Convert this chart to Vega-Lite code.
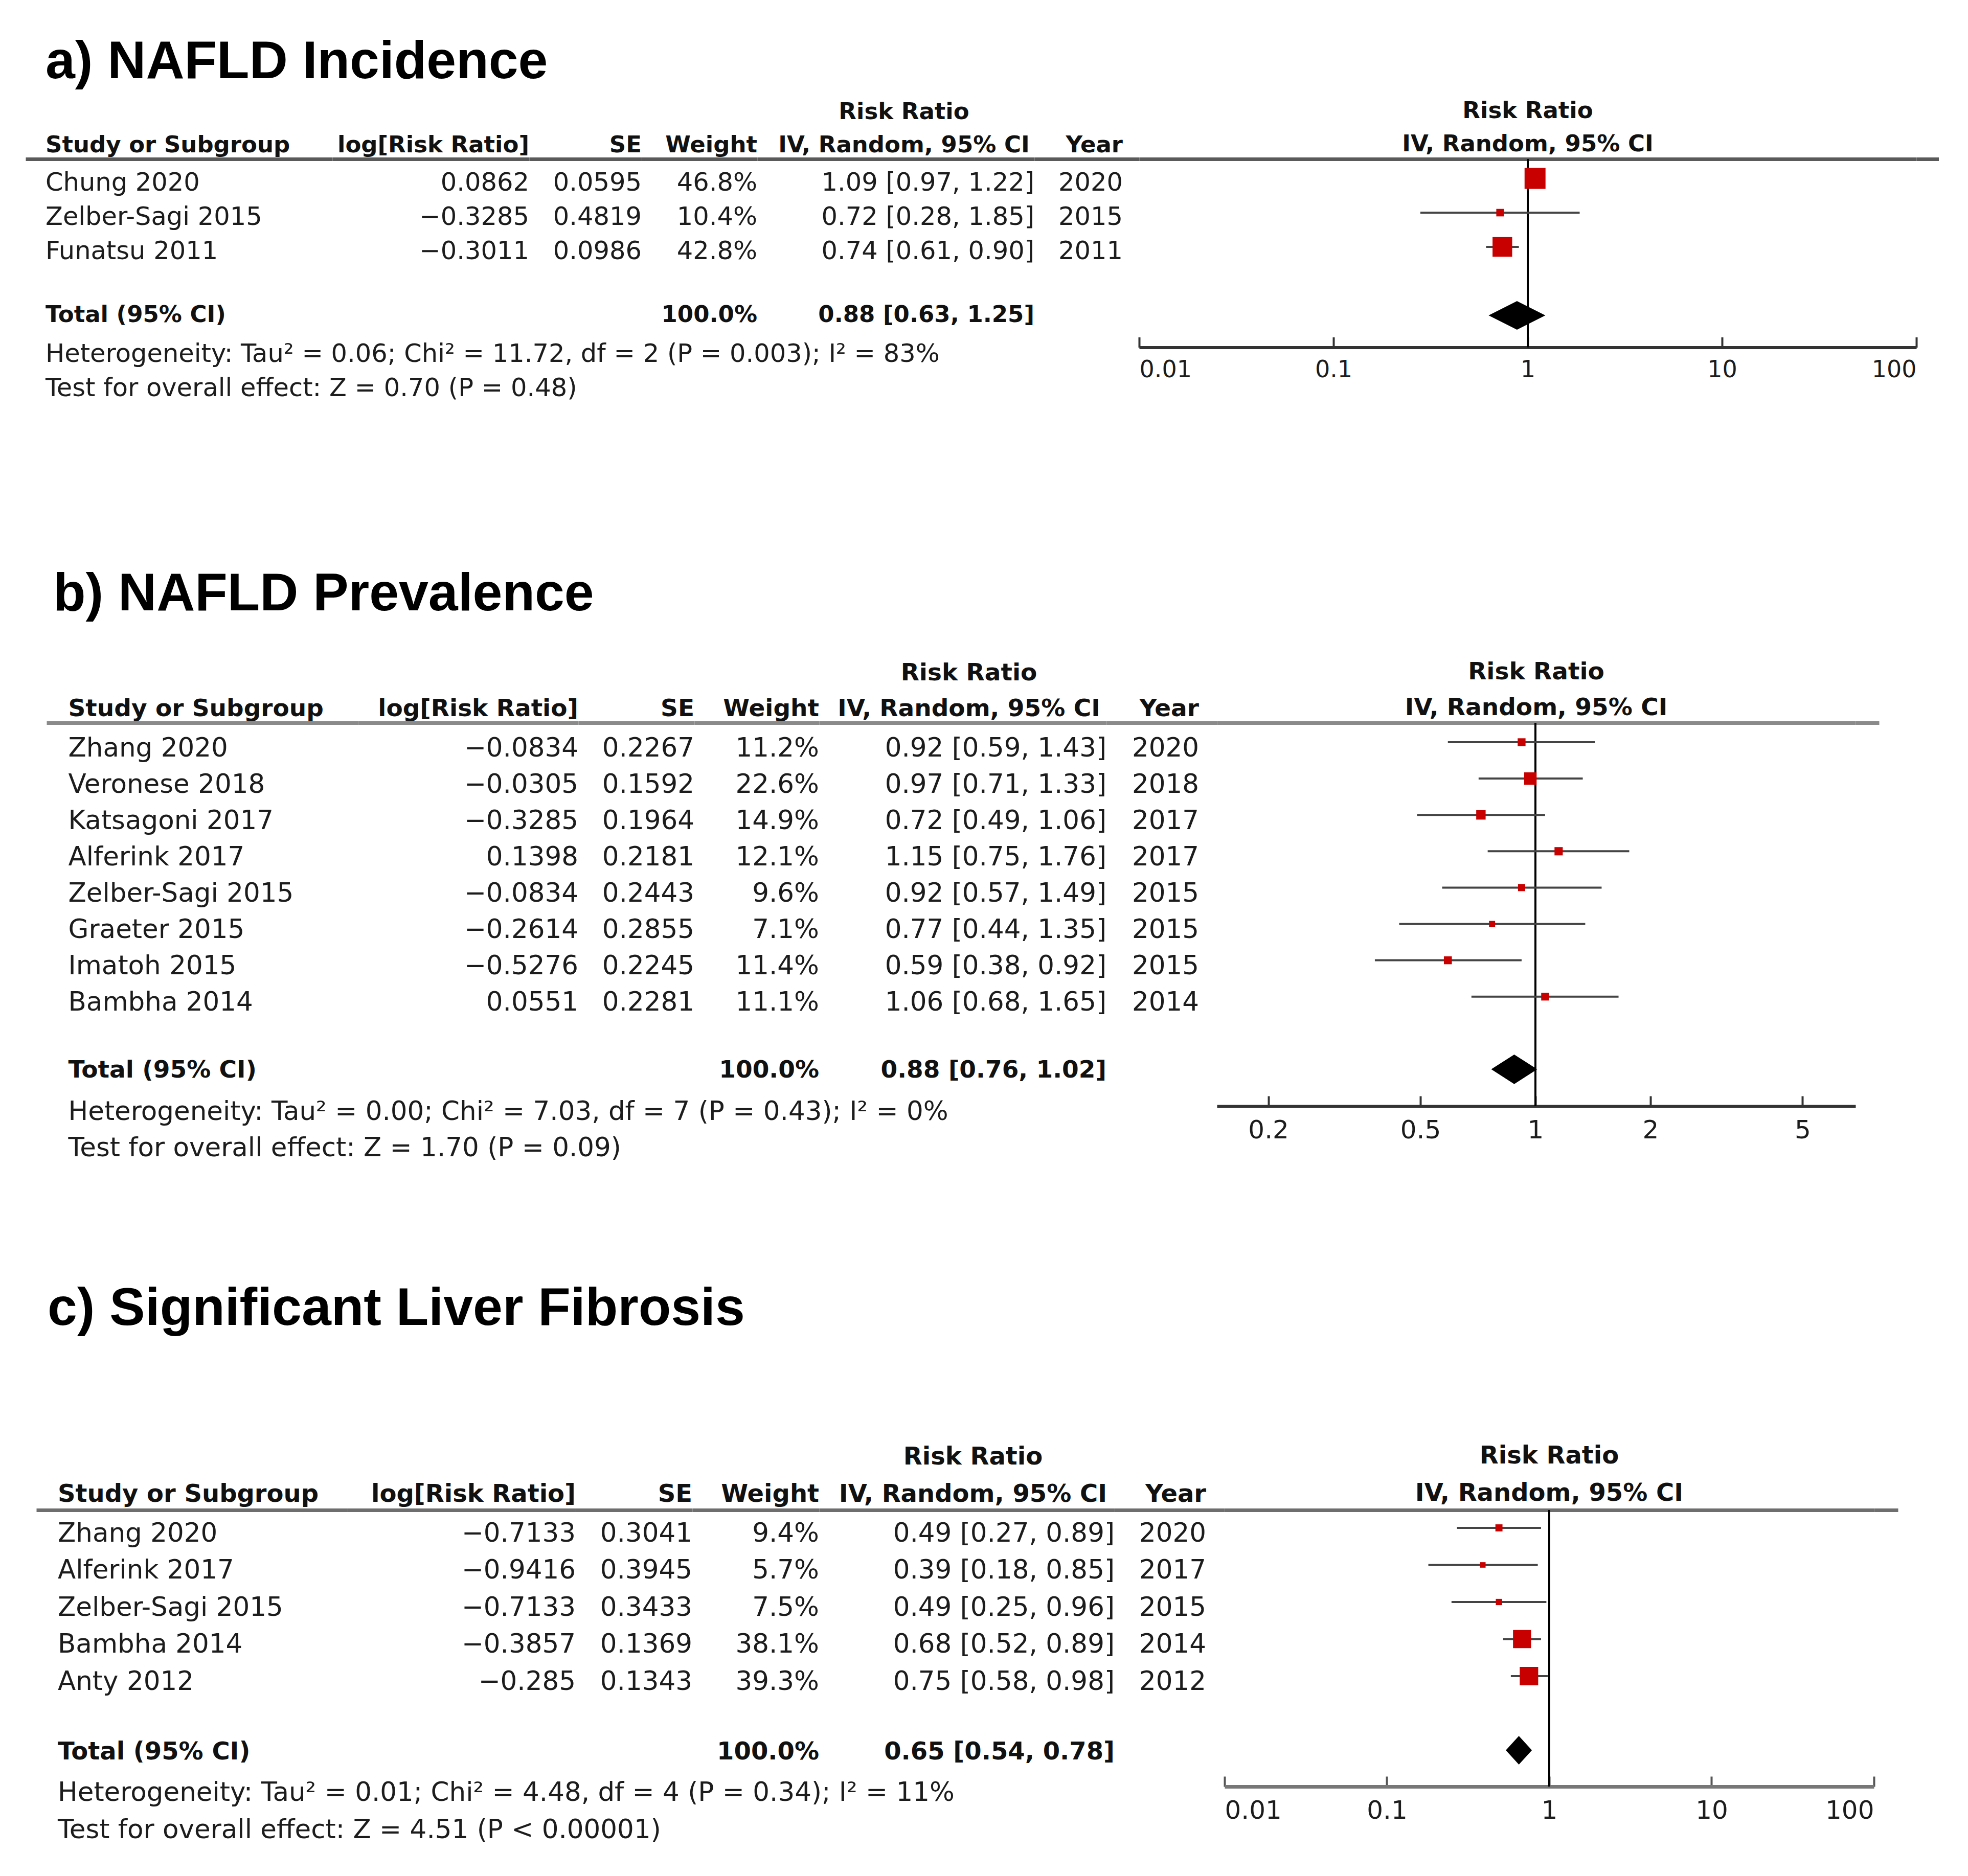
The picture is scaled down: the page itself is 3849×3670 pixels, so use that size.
{
  "$schema": "https://vega.github.io/schema/vega-lite/v6.json",
  "background": "white",
  "padding": {"left": 0, "top": 70, "right": 0, "bottom": 0},
  "spacing": 0,
  "config": {
    "view": {"stroke": null},
    "concat": {"spacing": 0},
    "font": "DejaVu Sans",
    "title": {"frame": "group", "font": "DejaVu Sans", "fontWeight": "bold", "color": "#111111", "baseline": "bottom"},
    "axis": {"grid": false, "minExtent": 0}
  },
  "datasets": {
    "a": [
      {"kind": "study", "study": "Chung 2020", "logrr": "0.0862", "se": "0.0595", "weight": "46.8%", "ci": "1.09 [0.97, 1.22]", "year": "2020", "rr": 1.09, "lo": 0.97, "hi": 1.22, "w": 46.8},
      {"kind": "study", "study": "Zelber-Sagi 2015", "logrr": "−0.3285", "se": "0.4819", "weight": "10.4%", "ci": "0.72 [0.28, 1.85]", "year": "2015", "rr": 0.72, "lo": 0.28, "hi": 1.85, "w": 10.4},
      {"kind": "study", "study": "Funatsu 2011", "logrr": "−0.3011", "se": "0.0986", "weight": "42.8%", "ci": "0.74 [0.61, 0.90]", "year": "2011", "rr": 0.74, "lo": 0.61, "hi": 0.90, "w": 42.8},
      {"kind": "total", "study": "Total (95% CI)", "weight": "100.0%", "ci": "0.88 [0.63, 1.25]", "rr": 0.88, "lo": 0.63, "hi": 1.25},
      {"kind": "note", "study": "Heterogeneity: Tau² = 0.06; Chi² = 11.72, df = 2 (P = 0.003); I² = 83%"},
      {"kind": "note", "study": "Test for overall effect: Z = 0.70 (P = 0.48)"}
    ],
    "b": [
      {"kind": "study", "study": "Zhang 2020", "logrr": "−0.0834", "se": "0.2267", "weight": "11.2%", "ci": "0.92 [0.59, 1.43]", "year": "2020", "rr": 0.92, "lo": 0.59, "hi": 1.43, "w": 11.2},
      {"kind": "study", "study": "Veronese 2018", "logrr": "−0.0305", "se": "0.1592", "weight": "22.6%", "ci": "0.97 [0.71, 1.33]", "year": "2018", "rr": 0.97, "lo": 0.71, "hi": 1.33, "w": 22.6},
      {"kind": "study", "study": "Katsagoni 2017", "logrr": "−0.3285", "se": "0.1964", "weight": "14.9%", "ci": "0.72 [0.49, 1.06]", "year": "2017", "rr": 0.72, "lo": 0.49, "hi": 1.06, "w": 14.9},
      {"kind": "study", "study": "Alferink 2017", "logrr": "0.1398", "se": "0.2181", "weight": "12.1%", "ci": "1.15 [0.75, 1.76]", "year": "2017", "rr": 1.15, "lo": 0.75, "hi": 1.76, "w": 12.1},
      {"kind": "study", "study": "Zelber-Sagi 2015", "logrr": "−0.0834", "se": "0.2443", "weight": "9.6%", "ci": "0.92 [0.57, 1.49]", "year": "2015", "rr": 0.92, "lo": 0.57, "hi": 1.49, "w": 9.6},
      {"kind": "study", "study": "Graeter 2015", "logrr": "−0.2614", "se": "0.2855", "weight": "7.1%", "ci": "0.77 [0.44, 1.35]", "year": "2015", "rr": 0.77, "lo": 0.44, "hi": 1.35, "w": 7.1},
      {"kind": "study", "study": "Imatoh 2015", "logrr": "−0.5276", "se": "0.2245", "weight": "11.4%", "ci": "0.59 [0.38, 0.92]", "year": "2015", "rr": 0.59, "lo": 0.38, "hi": 0.92, "w": 11.4},
      {"kind": "study", "study": "Bambha 2014", "logrr": "0.0551", "se": "0.2281", "weight": "11.1%", "ci": "1.06 [0.68, 1.65]", "year": "2014", "rr": 1.06, "lo": 0.68, "hi": 1.65, "w": 11.1},
      {"kind": "total", "study": "Total (95% CI)", "weight": "100.0%", "ci": "0.88 [0.76, 1.02]", "rr": 0.88, "lo": 0.76, "hi": 1.02},
      {"kind": "note", "study": "Heterogeneity: Tau² = 0.00; Chi² = 7.03, df = 7 (P = 0.43); I² = 0%"},
      {"kind": "note", "study": "Test for overall effect: Z = 1.70 (P = 0.09)"}
    ],
    "c": [
      {"kind": "study", "study": "Zhang 2020", "logrr": "−0.7133", "se": "0.3041", "weight": "9.4%", "ci": "0.49 [0.27, 0.89]", "year": "2020", "rr": 0.49, "lo": 0.27, "hi": 0.89, "w": 9.4},
      {"kind": "study", "study": "Alferink 2017", "logrr": "−0.9416", "se": "0.3945", "weight": "5.7%", "ci": "0.39 [0.18, 0.85]", "year": "2017", "rr": 0.39, "lo": 0.18, "hi": 0.85, "w": 5.7},
      {"kind": "study", "study": "Zelber-Sagi 2015", "logrr": "−0.7133", "se": "0.3433", "weight": "7.5%", "ci": "0.49 [0.25, 0.96]", "year": "2015", "rr": 0.49, "lo": 0.25, "hi": 0.96, "w": 7.5},
      {"kind": "study", "study": "Bambha 2014", "logrr": "−0.3857", "se": "0.1369", "weight": "38.1%", "ci": "0.68 [0.52, 0.89]", "year": "2014", "rr": 0.68, "lo": 0.52, "hi": 0.89, "w": 38.1},
      {"kind": "study", "study": "Anty 2012", "logrr": "−0.285", "se": "0.1343", "weight": "39.3%", "ci": "0.75 [0.58, 0.98]", "year": "2012", "rr": 0.75, "lo": 0.58, "hi": 0.98, "w": 39.3},
      {"kind": "total", "study": "Total (95% CI)", "weight": "100.0%", "ci": "0.65 [0.54, 0.78]", "rr": 0.65, "lo": 0.54, "hi": 0.78},
      {"kind": "note", "study": "Heterogeneity: Tau² = 0.01; Chi² = 4.48, df = 4 (P = 0.34); I² = 11%"},
      {"kind": "note", "study": "Test for overall effect: Z = 4.51 (P < 0.00001)"}
    ]
  },
  "vconcat": [
    {
      "title": {"text": "a) NAFLD Incidence", "anchor": "start", "dx": 89, "offset": -84.5, "font": "Liberation Sans", "fontSize": 104, "fontWeight": "bold", "color": "#000000", "baseline": "bottom"},
      "spacing": 0,
      "bounds": "flush",
      "resolve": {"scale": {"x": "independent", "y": "independent"}},
      "hconcat": [
        {"width": 50, "height": 800, "data": {"values": [{}]}, "mark": {"type": "text"}, "encoding": {"text": {"value": ""}}},
        {
          "width": 600, "height": 800, "data": {"name": "a"},
          "title": {"text": "Study or Subgroup", "anchor": "start", "dx": 39, "offset": 4, "fontSize": 45},
          "encoding": {
            "x": {"datum": 0, "type": "quantitative", "scale": {"domain": [0, 1]}, "axis": {"orient": "top", "ticks": false, "labels": false, "grid": false, "title": null, "domainColor": "#5a5a5a", "domainWidth": 7, "minExtent": 0}},
            "y": {"field": "study", "type": "ordinal", "scale": {"type": "point", "domain": ["Chung 2020", "Zelber-Sagi 2015", "Funatsu 2011", "_gap", "Total (95% CI)", "Heterogeneity: Tau² = 0.06; Chi² = 11.72, df = 2 (P = 0.003); I² = 83%", "Test for overall effect: Z = 0.70 (P = 0.48)", "_p1", "_p2", "_p3", "_p4"], "padding": 0.97, "align": 0.3616}, "axis": null},
            "text": {"field": "study"}
          },
          "layer": [
            {"transform": [{"filter": "datum.kind != 'total'"}], "mark": {"type": "text", "align": "left", "baseline": "middle", "dx": 39, "fontSize": 49.5, "color": "#1c1c1c"}},
            {"transform": [{"filter": "datum.kind == 'total'"}], "mark": {"type": "text", "align": "left", "baseline": "middle", "dx": 39, "dy": -10, "fontSize": 45, "fontWeight": "bold", "color": "#111111"}}
          ]
        },
        {
          "width": 385, "height": 800, "data": {"name": "a"},
          "title": {"text": "log[Risk Ratio]", "anchor": "end", "offset": 4, "fontSize": 45},
          "transform": [{"filter": "datum.kind == 'study'"}],
          "mark": {"type": "text", "align": "right", "baseline": "middle", "fontSize": 49.5, "color": "#1c1c1c"},
          "encoding": {
            "x": {"datum": 1, "type": "quantitative", "scale": {"domain": [0, 1]}, "axis": {"orient": "top", "ticks": false, "labels": false, "grid": false, "title": null, "domainColor": "#5a5a5a", "domainWidth": 7, "minExtent": 0}},
            "y": {"field": "study", "type": "ordinal", "scale": {"type": "point", "domain": ["Chung 2020", "Zelber-Sagi 2015", "Funatsu 2011", "_gap", "Total (95% CI)", "Heterogeneity: Tau² = 0.06; Chi² = 11.72, df = 2 (P = 0.003); I² = 83%", "Test for overall effect: Z = 0.70 (P = 0.48)", "_p1", "_p2", "_p3", "_p4"], "padding": 0.97, "align": 0.3616}, "axis": null},
            "text": {"field": "logrr"}
          }
        },
        {
          "width": 220, "height": 800, "data": {"name": "a"},
          "title": {"text": "SE", "anchor": "end", "offset": 4, "fontSize": 45},
          "transform": [{"filter": "datum.kind == 'study'"}],
          "mark": {"type": "text", "align": "right", "baseline": "middle", "fontSize": 49.5, "color": "#1c1c1c"},
          "encoding": {
            "x": {"datum": 1, "type": "quantitative", "scale": {"domain": [0, 1]}, "axis": {"orient": "top", "ticks": false, "labels": false, "grid": false, "title": null, "domainColor": "#5a5a5a", "domainWidth": 7, "minExtent": 0}},
            "y": {"field": "study", "type": "ordinal", "scale": {"type": "point", "domain": ["Chung 2020", "Zelber-Sagi 2015", "Funatsu 2011", "_gap", "Total (95% CI)", "Heterogeneity: Tau² = 0.06; Chi² = 11.72, df = 2 (P = 0.003); I² = 83%", "Test for overall effect: Z = 0.70 (P = 0.48)", "_p1", "_p2", "_p3", "_p4"], "padding": 0.97, "align": 0.3616}, "axis": null},
            "text": {"field": "se"}
          }
        },
        {
          "width": 226, "height": 800, "data": {"name": "a"},
          "title": {"text": "Weight", "anchor": "end", "offset": 4, "fontSize": 45},
          "encoding": {
            "x": {"datum": 1, "type": "quantitative", "scale": {"domain": [0, 1]}, "axis": {"orient": "top", "ticks": false, "labels": false, "grid": false, "title": null, "domainColor": "#5a5a5a", "domainWidth": 7, "minExtent": 0}},
            "y": {"field": "study", "type": "ordinal", "scale": {"type": "point", "domain": ["Chung 2020", "Zelber-Sagi 2015", "Funatsu 2011", "_gap", "Total (95% CI)", "Heterogeneity: Tau² = 0.06; Chi² = 11.72, df = 2 (P = 0.003); I² = 83%", "Test for overall effect: Z = 0.70 (P = 0.48)", "_p1", "_p2", "_p3", "_p4"], "padding": 0.97, "align": 0.3616}, "axis": null},
            "text": {"field": "weight"}
          },
          "layer": [
            {"transform": [{"filter": "datum.kind == 'study'"}], "mark": {"type": "text", "align": "right", "baseline": "middle", "fontSize": 49.5, "color": "#1c1c1c"}},
            {"transform": [{"filter": "datum.kind == 'total'"}], "mark": {"type": "text", "align": "right", "baseline": "middle", "dy": -10, "fontSize": 45, "fontWeight": "bold", "color": "#111111"}}
          ]
        },
        {
          "width": 542, "height": 800, "data": {"name": "a"},
          "title": {"text": ["Risk Ratio", "IV, Random, 95% CI"], "anchor": "end", "align": "center", "dx": -255, "lineHeight": 65.5, "offset": 4, "fontSize": 45},
          "encoding": {
            "x": {"datum": 1, "type": "quantitative", "scale": {"domain": [0, 1]}, "axis": {"orient": "top", "ticks": false, "labels": false, "grid": false, "title": null, "domainColor": "#5a5a5a", "domainWidth": 7, "minExtent": 0}},
            "y": {"field": "study", "type": "ordinal", "scale": {"type": "point", "domain": ["Chung 2020", "Zelber-Sagi 2015", "Funatsu 2011", "_gap", "Total (95% CI)", "Heterogeneity: Tau² = 0.06; Chi² = 11.72, df = 2 (P = 0.003); I² = 83%", "Test for overall effect: Z = 0.70 (P = 0.48)", "_p1", "_p2", "_p3", "_p4"], "padding": 0.97, "align": 0.3616}, "axis": null},
            "text": {"field": "ci"}
          },
          "layer": [
            {"transform": [{"filter": "datum.kind == 'study'"}], "mark": {"type": "text", "align": "right", "baseline": "middle", "fontSize": 49.5, "color": "#1c1c1c"}},
            {"transform": [{"filter": "datum.kind == 'total'"}], "mark": {"type": "text", "align": "right", "baseline": "middle", "dy": -10, "fontSize": 45, "fontWeight": "bold", "color": "#111111"}}
          ]
        },
        {
          "width": 205, "height": 800, "data": {"name": "a"},
          "title": {"text": "Year", "anchor": "end", "dx": -32, "offset": 4, "fontSize": 45},
          "transform": [{"filter": "datum.kind == 'study'"}],
          "mark": {"type": "text", "align": "right", "baseline": "middle", "dx": -32, "fontSize": 49.5, "color": "#1c1c1c"},
          "encoding": {
            "x": {"datum": 1, "type": "quantitative", "scale": {"domain": [0, 1]}, "axis": {"orient": "top", "ticks": false, "labels": false, "grid": false, "title": null, "domainColor": "#5a5a5a", "domainWidth": 7, "minExtent": 0}},
            "y": {"field": "study", "type": "ordinal", "scale": {"type": "point", "domain": ["Chung 2020", "Zelber-Sagi 2015", "Funatsu 2011", "_gap", "Total (95% CI)", "Heterogeneity: Tau² = 0.06; Chi² = 11.72, df = 2 (P = 0.003); I² = 83%", "Test for overall effect: Z = 0.70 (P = 0.48)", "_p1", "_p2", "_p3", "_p4"], "padding": 0.97, "align": 0.3616}, "axis": null},
            "text": {"field": "year"}
          }
        },
        {
          "width": 1520, "height": 368.5, "data": {"name": "a"},
          "title": {"text": ["Risk Ratio", "IV, Random, 95% CI"], "anchor": "middle", "lineHeight": 65.5, "offset": 4, "fontSize": 45},
          "resolve": {"axis": {"x": "independent"}},
          "layer": [
            {
              "data": {"values": [{"ref": 1}]},
              "mark": {"type": "rule", "color": "#000000", "strokeWidth": 4},
              "encoding": {"x": {"field": "ref", "type": "quantitative", "scale": {"type": "log", "domain": [0.01, 100], "nice": false}, "axis": {"orient": "top", "ticks": false, "labels": false, "grid": false, "title": null, "domainColor": "#5a5a5a", "domainWidth": 7, "minExtent": 0}}}
            },
            {
              "transform": [{"filter": "datum.kind == 'study'"}],
              "mark": {"type": "rule", "color": "#444444", "strokeWidth": 4},
              "encoding": {
                "x": {"field": "lo", "type": "quantitative", "axis": {"orient": "bottom", "values": [0.01, 0.1, 1, 10, 100], "format": "~g", "labelFlush": true, "labelFontSize": 46, "labelFont": "DejaVu Sans", "labelColor": "#1c1c1c", "domainColor": "#333333", "domainWidth": 6, "tickColor": "#333333", "tickWidth": 4, "tickSize": -20, "labelPadding": 42, "grid": false, "title": null, "labelOverlap": false, "minExtent": 0}},
                "x2": {"field": "hi"},
                "y": {"field": "study", "type": "ordinal", "scale": {"type": "point", "domain": ["Chung 2020", "Zelber-Sagi 2015", "Funatsu 2011", "_gap", "Total (95% CI)"], "padding": 0.75, "align": 0.378}, "axis": null}
              }
            },
            {
              "transform": [{"filter": "datum.kind == 'study'"}],
              "mark": {"type": "point", "shape": "square", "filled": true, "color": "#c80000", "opacity": 1},
              "encoding": {
                "x": {"field": "rr", "type": "quantitative", "axis": null},
                "y": {"field": "study", "type": "ordinal", "axis": null},
                "size": {"field": "w", "type": "quantitative", "scale": {"type": "pow", "exponent": 1.5, "domain": [0, 50], "range": [45, 1850]}, "legend": null}
              }
            },
            {
              "transform": [{"filter": "datum.kind == 'total'"}],
              "mark": {"type": "point", "shape": "M-1,0L0,-0.505L1,0L0,0.505Z", "filled": true, "color": "#000000", "opacity": 1, "size": 12321},
              "encoding": {
                "x": {"field": "rr", "type": "quantitative", "axis": null},
                "y": {"field": "study", "type": "ordinal", "axis": null}
              }
            }
          ]
        },
        {"width": 44, "height": 368.5, "data": {"values": [{}]}, "mark": {"type": "text"}, "encoding": {"x": {"datum": 0, "type": "quantitative", "scale": {"domain": [0, 1]}, "axis": {"orient": "top", "ticks": false, "labels": false, "grid": false, "title": null, "domainColor": "#5a5a5a", "domainWidth": 7, "minExtent": 0}}, "text": {"value": ""}}}
      ]
    },
    {
      "title": {"text": "b) NAFLD Prevalence", "anchor": "start", "dx": 104, "offset": -29.5, "font": "Liberation Sans", "fontSize": 104, "fontWeight": "bold", "color": "#000000", "baseline": "bottom"},
      "spacing": 0,
      "bounds": "flush",
      "resolve": {"scale": {"x": "independent", "y": "independent"}},
      "hconcat": [
        {"width": 91, "height": 1095, "data": {"values": [{}]}, "mark": {"type": "text"}, "encoding": {"text": {"value": ""}}},
        {
          "width": 609, "height": 1095, "data": {"name": "b"},
          "title": {"text": "Study or Subgroup", "anchor": "start", "dx": 42.5, "offset": 3.5, "fontSize": 47},
          "encoding": {
            "x": {"datum": 0, "type": "quantitative", "scale": {"domain": [0, 1]}, "axis": {"orient": "top", "ticks": false, "labels": false, "grid": false, "title": null, "domainColor": "#8a8a8a", "domainWidth": 7, "minExtent": 0}},
            "y": {"field": "study", "type": "ordinal", "scale": {"type": "point", "domain": ["Zhang 2020", "Veronese 2018", "Katsagoni 2017", "Alferink 2017", "Zelber-Sagi 2015", "Graeter 2015", "Imatoh 2015", "Bambha 2014", "_gap", "Total (95% CI)", "Heterogeneity: Tau² = 0.00; Chi² = 7.03, df = 7 (P = 0.43); I² = 0%", "Test for overall effect: Z = 1.70 (P = 0.09)", "_p1", "_p2", "_p3"], "padding": 0.7005, "align": 0.508}, "axis": null},
            "text": {"field": "study"}
          },
          "layer": [
            {"transform": [{"filter": "datum.kind != 'total'"}], "mark": {"type": "text", "align": "left", "baseline": "middle", "dx": 42.5, "fontSize": 51.5, "color": "#1c1c1c"}},
            {"transform": [{"filter": "datum.kind == 'total'"}], "mark": {"type": "text", "align": "left", "baseline": "middle", "dx": 42.5, "dy": -10, "fontSize": 47, "fontWeight": "bold", "color": "#111111"}}
          ]
        },
        {
          "width": 431, "height": 1095, "data": {"name": "b"},
          "title": {"text": "log[Risk Ratio]", "anchor": "end", "offset": 3.5, "fontSize": 47},
          "transform": [{"filter": "datum.kind == 'study'"}],
          "mark": {"type": "text", "align": "right", "baseline": "middle", "fontSize": 51.5, "color": "#1c1c1c"},
          "encoding": {
            "x": {"datum": 1, "type": "quantitative", "scale": {"domain": [0, 1]}, "axis": {"orient": "top", "ticks": false, "labels": false, "grid": false, "title": null, "domainColor": "#8a8a8a", "domainWidth": 7, "minExtent": 0}},
            "y": {"field": "study", "type": "ordinal", "scale": {"type": "point", "domain": ["Zhang 2020", "Veronese 2018", "Katsagoni 2017", "Alferink 2017", "Zelber-Sagi 2015", "Graeter 2015", "Imatoh 2015", "Bambha 2014", "_gap", "Total (95% CI)", "Heterogeneity: Tau² = 0.00; Chi² = 7.03, df = 7 (P = 0.43); I² = 0%", "Test for overall effect: Z = 1.70 (P = 0.09)", "_p1", "_p2", "_p3"], "padding": 0.7005, "align": 0.508}, "axis": null},
            "text": {"field": "logrr"}
          }
        },
        {
          "width": 227, "height": 1095, "data": {"name": "b"},
          "title": {"text": "SE", "anchor": "end", "offset": 3.5, "fontSize": 47},
          "transform": [{"filter": "datum.kind == 'study'"}],
          "mark": {"type": "text", "align": "right", "baseline": "middle", "fontSize": 51.5, "color": "#1c1c1c"},
          "encoding": {
            "x": {"datum": 1, "type": "quantitative", "scale": {"domain": [0, 1]}, "axis": {"orient": "top", "ticks": false, "labels": false, "grid": false, "title": null, "domainColor": "#8a8a8a", "domainWidth": 7, "minExtent": 0}},
            "y": {"field": "study", "type": "ordinal", "scale": {"type": "point", "domain": ["Zhang 2020", "Veronese 2018", "Katsagoni 2017", "Alferink 2017", "Zelber-Sagi 2015", "Graeter 2015", "Imatoh 2015", "Bambha 2014", "_gap", "Total (95% CI)", "Heterogeneity: Tau² = 0.00; Chi² = 7.03, df = 7 (P = 0.43); I² = 0%", "Test for overall effect: Z = 1.70 (P = 0.09)", "_p1", "_p2", "_p3"], "padding": 0.7005, "align": 0.508}, "axis": null},
            "text": {"field": "se"}
          }
        },
        {
          "width": 244, "height": 1095, "data": {"name": "b"},
          "title": {"text": "Weight", "anchor": "end", "offset": 3.5, "fontSize": 47},
          "encoding": {
            "x": {"datum": 1, "type": "quantitative", "scale": {"domain": [0, 1]}, "axis": {"orient": "top", "ticks": false, "labels": false, "grid": false, "title": null, "domainColor": "#8a8a8a", "domainWidth": 7, "minExtent": 0}},
            "y": {"field": "study", "type": "ordinal", "scale": {"type": "point", "domain": ["Zhang 2020", "Veronese 2018", "Katsagoni 2017", "Alferink 2017", "Zelber-Sagi 2015", "Graeter 2015", "Imatoh 2015", "Bambha 2014", "_gap", "Total (95% CI)", "Heterogeneity: Tau² = 0.00; Chi² = 7.03, df = 7 (P = 0.43); I² = 0%", "Test for overall effect: Z = 1.70 (P = 0.09)", "_p1", "_p2", "_p3"], "padding": 0.7005, "align": 0.508}, "axis": null},
            "text": {"field": "weight"}
          },
          "layer": [
            {"transform": [{"filter": "datum.kind == 'study'"}], "mark": {"type": "text", "align": "right", "baseline": "middle", "fontSize": 51.5, "color": "#1c1c1c"}},
            {"transform": [{"filter": "datum.kind == 'total'"}], "mark": {"type": "text", "align": "right", "baseline": "middle", "dy": -10, "fontSize": 47, "fontWeight": "bold", "color": "#111111"}}
          ]
        },
        {
          "width": 562, "height": 1095, "data": {"name": "b"},
          "title": {"text": ["Risk Ratio", "IV, Random, 95% CI"], "anchor": "end", "align": "center", "dx": -269, "lineHeight": 70, "offset": 3.5, "fontSize": 47},
          "encoding": {
            "x": {"datum": 1, "type": "quantitative", "scale": {"domain": [0, 1]}, "axis": {"orient": "top", "ticks": false, "labels": false, "grid": false, "title": null, "domainColor": "#8a8a8a", "domainWidth": 7, "minExtent": 0}},
            "y": {"field": "study", "type": "ordinal", "scale": {"type": "point", "domain": ["Zhang 2020", "Veronese 2018", "Katsagoni 2017", "Alferink 2017", "Zelber-Sagi 2015", "Graeter 2015", "Imatoh 2015", "Bambha 2014", "_gap", "Total (95% CI)", "Heterogeneity: Tau² = 0.00; Chi² = 7.03, df = 7 (P = 0.43); I² = 0%", "Test for overall effect: Z = 1.70 (P = 0.09)", "_p1", "_p2", "_p3"], "padding": 0.7005, "align": 0.508}, "axis": null},
            "text": {"field": "ci"}
          },
          "layer": [
            {"transform": [{"filter": "datum.kind == 'study'"}], "mark": {"type": "text", "align": "right", "baseline": "middle", "fontSize": 51.5, "color": "#1c1c1c"}},
            {"transform": [{"filter": "datum.kind == 'total'"}], "mark": {"type": "text", "align": "right", "baseline": "middle", "dy": -10, "fontSize": 47, "fontWeight": "bold", "color": "#111111"}}
          ]
        },
        {
          "width": 216, "height": 1095, "data": {"name": "b"},
          "title": {"text": "Year", "anchor": "end", "dx": -35, "offset": 3.5, "fontSize": 47},
          "transform": [{"filter": "datum.kind == 'study'"}],
          "mark": {"type": "text", "align": "right", "baseline": "middle", "dx": -35, "fontSize": 51.5, "color": "#1c1c1c"},
          "encoding": {
            "x": {"datum": 1, "type": "quantitative", "scale": {"domain": [0, 1]}, "axis": {"orient": "top", "ticks": false, "labels": false, "grid": false, "title": null, "domainColor": "#8a8a8a", "domainWidth": 7, "minExtent": 0}},
            "y": {"field": "study", "type": "ordinal", "scale": {"type": "point", "domain": ["Zhang 2020", "Veronese 2018", "Katsagoni 2017", "Alferink 2017", "Zelber-Sagi 2015", "Graeter 2015", "Imatoh 2015", "Bambha 2014", "_gap", "Total (95% CI)", "Heterogeneity: Tau² = 0.00; Chi² = 7.03, df = 7 (P = 0.43); I² = 0%", "Test for overall effect: Z = 1.70 (P = 0.09)", "_p1", "_p2", "_p3"], "padding": 0.7005, "align": 0.508}, "axis": null},
            "text": {"field": "year"}
          }
        },
        {
          "width": 1249, "height": 750, "data": {"name": "b"},
          "title": {"text": ["Risk Ratio", "IV, Random, 95% CI"], "anchor": "middle", "lineHeight": 70, "offset": 3.5, "fontSize": 47},
          "resolve": {"axis": {"x": "independent"}},
          "layer": [
            {
              "data": {"values": [{"ref": 1}]},
              "mark": {"type": "rule", "color": "#000000", "strokeWidth": 4},
              "encoding": {"x": {"field": "ref", "type": "quantitative", "scale": {"type": "log", "domain": [0.1467, 6.88], "nice": false}, "axis": {"orient": "top", "ticks": false, "labels": false, "grid": false, "title": null, "domainColor": "#8a8a8a", "domainWidth": 7, "minExtent": 0}}}
            },
            {
              "transform": [{"filter": "datum.kind == 'study'"}],
              "mark": {"type": "rule", "color": "#444444", "strokeWidth": 4},
              "encoding": {
                "x": {"field": "lo", "type": "quantitative", "axis": {"orient": "bottom", "values": [0.2, 0.5, 1, 2, 5], "format": "~g", "labelFlush": false, "labelFontSize": 50, "labelFont": "DejaVu Sans", "labelColor": "#1c1c1c", "domainColor": "#333333", "domainWidth": 6, "tickColor": "#333333", "tickWidth": 4, "tickSize": -20, "labelPadding": 42.5, "grid": false, "title": null, "labelOverlap": false, "minExtent": 0}},
                "x2": {"field": "hi"},
                "y": {"field": "study", "type": "ordinal", "scale": {"type": "point", "domain": ["Zhang 2020", "Veronese 2018", "Katsagoni 2017", "Alferink 2017", "Zelber-Sagi 2015", "Graeter 2015", "Imatoh 2015", "Bambha 2014", "_gap", "Total (95% CI)"], "padding": 0.7745, "align": 0.345}, "axis": null}
              }
            },
            {
              "transform": [{"filter": "datum.kind == 'study'"}],
              "mark": {"type": "point", "shape": "square", "filled": true, "color": "#c80000", "opacity": 1},
              "encoding": {
                "x": {"field": "rr", "type": "quantitative", "axis": null},
                "y": {"field": "study", "type": "ordinal", "axis": null},
                "size": {"field": "w", "type": "quantitative", "scale": {"type": "pow", "exponent": 1.5, "domain": [0, 50], "range": [45, 1850]}, "legend": null}
              }
            },
            {
              "transform": [{"filter": "datum.kind == 'total'"}],
              "mark": {"type": "point", "shape": "M-1,0L0,-0.644L1,0L0,0.644Z", "filled": true, "color": "#000000", "opacity": 1, "size": 8100},
              "encoding": {
                "x": {"field": "rr", "type": "quantitative", "axis": null},
                "y": {"field": "study", "type": "ordinal", "axis": null}
              }
            }
          ]
        },
        {"width": 46, "height": 750, "data": {"values": [{}]}, "mark": {"type": "text"}, "encoding": {"x": {"datum": 0, "type": "quantitative", "scale": {"domain": [0, 1]}, "axis": {"orient": "top", "ticks": false, "labels": false, "grid": false, "title": null, "domainColor": "#8a8a8a", "domainWidth": 7, "minExtent": 0}}, "text": {"value": ""}}}
      ]
    },
    {
      "title": {"text": "c) Significant Liver Fibrosis", "anchor": "start", "dx": 93, "offset": 106.5, "font": "Liberation Sans", "fontSize": 104, "fontWeight": "bold", "color": "#000000", "baseline": "bottom"},
      "spacing": 0,
      "bounds": "flush",
      "resolve": {"scale": {"x": "independent", "y": "independent"}},
      "hconcat": [
        {"width": 71, "height": 680, "data": {"values": [{}]}, "mark": {"type": "text"}, "encoding": {"text": {"value": ""}}},
        {
          "width": 609, "height": 680, "data": {"name": "c"},
          "title": {"text": "Study or Subgroup", "anchor": "start", "dx": 42, "offset": 6.5, "fontSize": 48},
          "encoding": {
            "x": {"datum": 0, "type": "quantitative", "scale": {"domain": [0, 1]}, "axis": {"orient": "top", "ticks": false, "labels": false, "grid": false, "title": null, "domainColor": "#6e6e6e", "domainWidth": 7, "minExtent": 0}},
            "y": {"field": "study", "type": "ordinal", "scale": {"type": "point", "domain": ["Zhang 2020", "Alferink 2017", "Zelber-Sagi 2015", "Bambha 2014", "Anty 2012", "_gap", "Total (95% CI)", "Heterogeneity: Tau² = 0.01; Chi² = 4.48, df = 4 (P = 0.34); I² = 11%", "Test for overall effect: Z = 4.51 (P < 0.00001)"], "padding": 0.6897, "align": 0.466}, "axis": null},
            "text": {"field": "study"}
          },
          "layer": [
            {"transform": [{"filter": "datum.kind != 'total'"}], "mark": {"type": "text", "align": "left", "baseline": "middle", "dx": 42, "fontSize": 51.5, "color": "#1c1c1c"}},
            {"transform": [{"filter": "datum.kind == 'total'"}], "mark": {"type": "text", "align": "left", "baseline": "middle", "dx": 42, "dy": -8, "fontSize": 48, "fontWeight": "bold", "color": "#111111"}}
          ]
        },
        {
          "width": 446, "height": 680, "data": {"name": "c"},
          "title": {"text": "log[Risk Ratio]", "anchor": "end", "offset": 6.5, "fontSize": 48},
          "transform": [{"filter": "datum.kind == 'study'"}],
          "mark": {"type": "text", "align": "right", "baseline": "middle", "fontSize": 51.5, "color": "#1c1c1c"},
          "encoding": {
            "x": {"datum": 1, "type": "quantitative", "scale": {"domain": [0, 1]}, "axis": {"orient": "top", "ticks": false, "labels": false, "grid": false, "title": null, "domainColor": "#6e6e6e", "domainWidth": 7, "minExtent": 0}},
            "y": {"field": "study", "type": "ordinal", "scale": {"type": "point", "domain": ["Zhang 2020", "Alferink 2017", "Zelber-Sagi 2015", "Bambha 2014", "Anty 2012", "_gap", "Total (95% CI)", "Heterogeneity: Tau² = 0.01; Chi² = 4.48, df = 4 (P = 0.34); I² = 11%", "Test for overall effect: Z = 4.51 (P < 0.00001)"], "padding": 0.6897, "align": 0.466}, "axis": null},
            "text": {"field": "logrr"}
          }
        },
        {
          "width": 228, "height": 680, "data": {"name": "c"},
          "title": {"text": "SE", "anchor": "end", "offset": 6.5, "fontSize": 48},
          "transform": [{"filter": "datum.kind == 'study'"}],
          "mark": {"type": "text", "align": "right", "baseline": "middle", "fontSize": 51.5, "color": "#1c1c1c"},
          "encoding": {
            "x": {"datum": 1, "type": "quantitative", "scale": {"domain": [0, 1]}, "axis": {"orient": "top", "ticks": false, "labels": false, "grid": false, "title": null, "domainColor": "#6e6e6e", "domainWidth": 7, "minExtent": 0}},
            "y": {"field": "study", "type": "ordinal", "scale": {"type": "point", "domain": ["Zhang 2020", "Alferink 2017", "Zelber-Sagi 2015", "Bambha 2014", "Anty 2012", "_gap", "Total (95% CI)", "Heterogeneity: Tau² = 0.01; Chi² = 4.48, df = 4 (P = 0.34); I² = 11%", "Test for overall effect: Z = 4.51 (P < 0.00001)"], "padding": 0.6897, "align": 0.466}, "axis": null},
            "text": {"field": "se"}
          }
        },
        {
          "width": 248, "height": 680, "data": {"name": "c"},
          "title": {"text": "Weight", "anchor": "end", "offset": 6.5, "fontSize": 48},
          "encoding": {
            "x": {"datum": 1, "type": "quantitative", "scale": {"domain": [0, 1]}, "axis": {"orient": "top", "ticks": false, "labels": false, "grid": false, "title": null, "domainColor": "#6e6e6e", "domainWidth": 7, "minExtent": 0}},
            "y": {"field": "study", "type": "ordinal", "scale": {"type": "point", "domain": ["Zhang 2020", "Alferink 2017", "Zelber-Sagi 2015", "Bambha 2014", "Anty 2012", "_gap", "Total (95% CI)", "Heterogeneity: Tau² = 0.01; Chi² = 4.48, df = 4 (P = 0.34); I² = 11%", "Test for overall effect: Z = 4.51 (P < 0.00001)"], "padding": 0.6897, "align": 0.466}, "axis": null},
            "text": {"field": "weight"}
          },
          "layer": [
            {"transform": [{"filter": "datum.kind == 'study'"}], "mark": {"type": "text", "align": "right", "baseline": "middle", "fontSize": 51.5, "color": "#1c1c1c"}},
            {"transform": [{"filter": "datum.kind == 'total'"}], "mark": {"type": "text", "align": "right", "baseline": "middle", "dy": -8, "fontSize": 48, "fontWeight": "bold", "color": "#111111"}}
          ]
        },
        {
          "width": 578, "height": 680, "data": {"name": "c"},
          "title": {"text": ["Risk Ratio", "IV, Random, 95% CI"], "anchor": "end", "align": "center", "dx": -277, "lineHeight": 73, "offset": 6.5, "fontSize": 48},
          "encoding": {
            "x": {"datum": 1, "type": "quantitative", "scale": {"domain": [0, 1]}, "axis": {"orient": "top", "ticks": false, "labels": false, "grid": false, "title": null, "domainColor": "#6e6e6e", "domainWidth": 7, "minExtent": 0}},
            "y": {"field": "study", "type": "ordinal", "scale": {"type": "point", "domain": ["Zhang 2020", "Alferink 2017", "Zelber-Sagi 2015", "Bambha 2014", "Anty 2012", "_gap", "Total (95% CI)", "Heterogeneity: Tau² = 0.01; Chi² = 4.48, df = 4 (P = 0.34); I² = 11%", "Test for overall effect: Z = 4.51 (P < 0.00001)"], "padding": 0.6897, "align": 0.466}, "axis": null},
            "text": {"field": "ci"}
          },
          "layer": [
            {"transform": [{"filter": "datum.kind == 'study'"}], "mark": {"type": "text", "align": "right", "baseline": "middle", "fontSize": 51.5, "color": "#1c1c1c"}},
            {"transform": [{"filter": "datum.kind == 'total'"}], "mark": {"type": "text", "align": "right", "baseline": "middle", "dy": -8, "fontSize": 48, "fontWeight": "bold", "color": "#111111"}}
          ]
        },
        {
          "width": 215, "height": 680, "data": {"name": "c"},
          "title": {"text": "Year", "anchor": "end", "dx": -36, "offset": 6.5, "fontSize": 48},
          "transform": [{"filter": "datum.kind == 'study'"}],
          "mark": {"type": "text", "align": "right", "baseline": "middle", "dx": -36, "fontSize": 51.5, "color": "#1c1c1c"},
          "encoding": {
            "x": {"datum": 1, "type": "quantitative", "scale": {"domain": [0, 1]}, "axis": {"orient": "top", "ticks": false, "labels": false, "grid": false, "title": null, "domainColor": "#6e6e6e", "domainWidth": 7, "minExtent": 0}},
            "y": {"field": "study", "type": "ordinal", "scale": {"type": "point", "domain": ["Zhang 2020", "Alferink 2017", "Zelber-Sagi 2015", "Bambha 2014", "Anty 2012", "_gap", "Total (95% CI)", "Heterogeneity: Tau² = 0.01; Chi² = 4.48, df = 4 (P = 0.34); I² = 11%", "Test for overall effect: Z = 4.51 (P < 0.00001)"], "padding": 0.6897, "align": 0.466}, "axis": null},
            "text": {"field": "year"}
          }
        },
        {
          "width": 1270, "height": 541, "data": {"name": "c"},
          "title": {"text": ["Risk Ratio", "IV, Random, 95% CI"], "anchor": "middle", "lineHeight": 73, "offset": 6.5, "fontSize": 48},
          "resolve": {"axis": {"x": "independent"}},
          "layer": [
            {
              "data": {"values": [{"ref": 1}]},
              "mark": {"type": "rule", "color": "#000000", "strokeWidth": 4},
              "encoding": {"x": {"field": "ref", "type": "quantitative", "scale": {"type": "log", "domain": [0.01, 100], "nice": false}, "axis": {"orient": "top", "ticks": false, "labels": false, "grid": false, "title": null, "domainColor": "#6e6e6e", "domainWidth": 7, "minExtent": 0}}}
            },
            {
              "transform": [{"filter": "datum.kind == 'study'"}],
              "mark": {"type": "rule", "color": "#444444", "strokeWidth": 4},
              "encoding": {
                "x": {"field": "lo", "type": "quantitative", "axis": {"orient": "bottom", "values": [0.01, 0.1, 1, 10, 100], "format": "~g", "labelFlush": true, "labelFontSize": 50, "labelFont": "DejaVu Sans", "labelColor": "#1c1c1c", "domainColor": "#777777", "domainWidth": 7, "tickColor": "#555555", "tickWidth": 4, "tickSize": -20, "labelPadding": 42.5, "grid": false, "title": null, "labelOverlap": false, "minExtent": 0}},
                "x2": {"field": "hi"},
                "y": {"field": "study", "type": "ordinal", "scale": {"type": "point", "domain": ["Zhang 2020", "Alferink 2017", "Zelber-Sagi 2015", "Bambha 2014", "Anty 2012", "_gap", "Total (95% CI)"], "padding": 0.731, "align": 0.33}, "axis": null}
              }
            },
            {
              "transform": [{"filter": "datum.kind == 'study'"}],
              "mark": {"type": "point", "shape": "square", "filled": true, "color": "#c80000", "opacity": 1},
              "encoding": {
                "x": {"field": "rr", "type": "quantitative", "axis": null},
                "y": {"field": "study", "type": "ordinal", "axis": null},
                "size": {"field": "w", "type": "quantitative", "scale": {"type": "pow", "exponent": 1.5, "domain": [0, 50], "range": [45, 1850]}, "legend": null}
              }
            },
            {
              "transform": [{"filter": "datum.kind == 'total'"}],
              "mark": {"type": "point", "shape": "M-1,0L0,-1.1L1,0L0,1.1Z", "filled": true, "color": "#000000", "opacity": 1, "size": 2601},
              "encoding": {
                "x": {"field": "rr", "type": "quantitative", "axis": null},
                "y": {"field": "study", "type": "ordinal", "axis": null}
              }
            }
          ]
        },
        {"width": 47, "height": 541, "data": {"values": [{}]}, "mark": {"type": "text"}, "encoding": {"x": {"datum": 0, "type": "quantitative", "scale": {"domain": [0, 1]}, "axis": {"orient": "top", "ticks": false, "labels": false, "grid": false, "title": null, "domainColor": "#6e6e6e", "domainWidth": 7, "minExtent": 0}}, "text": {"value": ""}}}
      ]
    }
  ]
}
